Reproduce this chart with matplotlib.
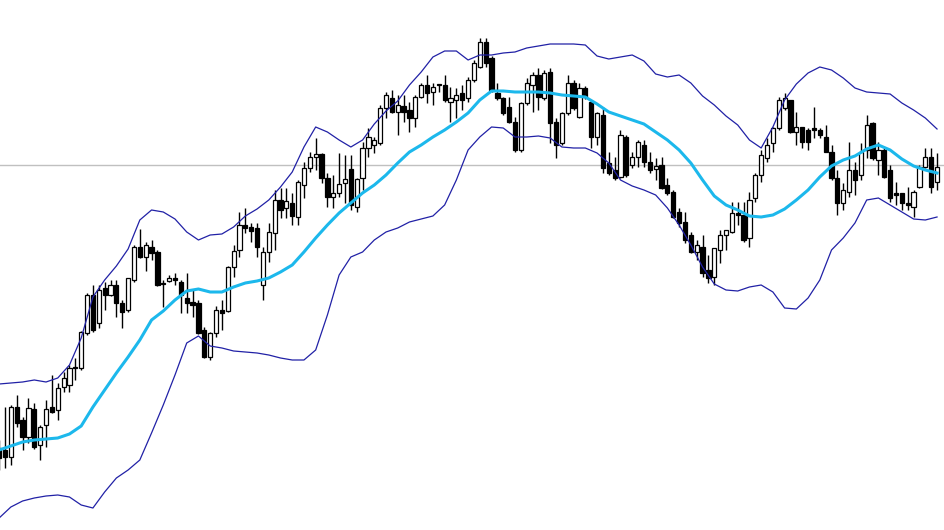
import numpy as np
import matplotlib
matplotlib.use("Agg")
import matplotlib.pyplot as plt

# OHLC per bar (arbitrary price units)
opens = [82, 80, 73, 123, 110, 93, 121, 85, 105, 123, 120, 143, 145, 163, 162, 197, 235, 207, 242, 235,
         245, 227, 220, 250, 283, 273, 283, 278, 247, 249, 252, 248, 232, 228, 227, 200, 173, 197, 220, 219,
         263, 280, 305, 303, 302, 245, 278, 297, 330, 322, 327, 313, 345, 362, 373, 376, 352, 333, 337, 347,
         361, 323, 352, 382, 385, 387, 422, 432, 418, 424, 420, 412, 433, 445, 438, 446, 445, 428, 430, 437,
         432, 450, 463, 488, 472, 437, 432, 423, 408, 380, 427, 445, 455, 432, 458, 408, 387, 417, 447, 413,
         442, 428, 393, 415, 367, 360, 353, 393, 365, 373, 385, 368, 361, 365, 345, 338, 318, 308, 295, 278,
         283, 260, 253, 280, 295, 298, 317, 315, 292, 332, 355, 372, 387, 402, 422, 430, 398, 403, 400, 402,
         400, 393, 378, 352, 327, 338, 360, 355, 380, 407, 370, 380, 360, 337, 337, 327, 323, 343, 363, 373,
         348]
highs = [90, 123, 125, 135, 113, 132, 127, 105, 130, 155, 147, 158, 165, 172, 199, 237, 245, 245, 248, 250,
         250, 230, 252, 285, 301, 288, 290, 280, 250, 255, 257, 250, 257, 240, 230, 203, 198, 224, 230, 264,
         285, 318, 322, 307, 307, 283, 307, 340, 342, 342, 337, 350, 368, 378, 392, 377, 357, 355, 377, 375,
         375, 352, 388, 402, 393, 425, 438, 440, 435, 435, 428, 435, 447, 455, 447, 446, 455, 443, 442, 445,
         453, 470, 492, 492, 474, 447, 433, 433, 413, 428, 452, 458, 462, 460, 462, 412, 418, 455, 450, 447,
         444, 430, 418, 423, 378, 373, 400, 395, 378, 390, 390, 378, 372, 373, 352, 340, 322, 318, 298, 290,
         295, 275, 282, 300, 300, 328, 328, 328, 338, 357, 380, 392, 403, 433, 437, 430, 418, 403, 402, 423,
         402, 405, 385, 360, 347, 388, 368, 387, 415, 408, 388, 382, 365, 348, 337, 343, 340, 365, 382, 382,
         377]
lows = [60, 62, 65, 103, 80, 87, 81, 70, 83, 117, 110, 138, 138, 150, 160, 195, 198, 202, 220, 234,
        213, 202, 218, 248, 272, 259, 270, 244, 223, 248, 245, 217, 217, 213, 196, 172, 170, 193, 200, 218,
        253, 273, 297, 288, 273, 230, 268, 280, 312, 312, 305, 305, 332, 358, 360, 347, 323, 322, 333, 327,
        320, 318, 340, 373, 377, 385, 412, 417, 395, 408, 398, 403, 432, 427, 425, 438, 428, 408, 412, 420,
        428, 448, 462, 463, 438, 430, 415, 407, 378, 378, 425, 418, 420, 430, 387, 372, 385, 415, 420, 412,
        431, 382, 385, 357, 355, 350, 352, 353, 362, 363, 363, 357, 350, 341, 335, 312, 303, 287, 277, 270,
        253, 247, 245, 267, 280, 297, 305, 288, 283, 328, 348, 368, 378, 400, 420, 397, 385, 382, 380, 392,
        392, 378, 350, 315, 320, 333, 335, 350, 372, 370, 355, 352, 328, 325, 320, 320, 313, 342, 362, 337,
        340]
closes = [72, 73, 123, 107, 93, 122, 83, 103, 121, 118, 142, 152, 162, 162, 198, 235, 200, 240, 235, 245,
          227, 218, 252, 283, 273, 285, 277, 245, 246, 252, 250, 235, 227, 225, 197, 173, 197, 220, 217, 263,
          279, 305, 302, 299, 283, 278, 298, 330, 320, 329, 314, 348, 362, 373, 376, 352, 333, 337, 346, 351,
          325, 351, 382, 393, 390, 422, 435, 418, 425, 418, 412, 433, 445, 437, 443, 445, 430, 432, 435, 430,
          450, 467, 488, 467, 440, 432, 417, 408, 380, 427, 447, 455, 433, 457, 407, 385, 417, 447, 422, 442,
          433, 393, 417, 362, 357, 352, 395, 355, 373, 388, 368, 360, 364, 342, 337, 313, 307, 290, 278, 285,
          257, 252, 282, 295, 300, 317, 315, 290, 330, 355, 375, 385, 402, 430, 432, 398, 403, 388, 388, 400,
          395, 378, 352, 327, 340, 360, 350, 378, 405, 372, 380, 353, 332, 335, 327, 325, 338, 363, 373, 343,
          363]

# Bollinger bands, read every second bar
band_step = 2
upper = [146, 147, 148, 150, 148, 152, 165, 192, 233, 250, 264, 281, 310, 320, 318, 311, 298, 290, 295, 296,
         303, 314, 321, 330, 343, 358, 383, 403, 398, 390, 383, 390, 406, 419, 429, 445, 458, 473, 479, 479,
         470, 475, 475, 477, 478, 482, 484, 486, 486, 486, 485, 474, 471, 473, 475, 469, 456, 453, 455, 447,
         434, 425, 414, 405, 390, 382, 403, 430, 446, 457, 463, 460, 452, 442, 438, 437, 436, 427, 420, 412,
         401]
middle = [80, 84, 88, 90, 91, 92, 96, 104, 123, 140, 157, 173, 190, 210, 219, 230, 239, 241, 238, 238,
          243, 247, 249, 252, 258, 265, 278, 292, 305, 317, 327, 337, 345, 355, 367, 378, 385, 393, 400, 408,
          417, 430, 439, 439, 438, 438, 438, 437, 435, 434, 433, 426, 418, 414, 410, 406, 398, 390, 380, 367,
          350, 334, 325, 320, 314, 313, 315, 321, 330, 340, 353, 364, 370, 374, 381, 385, 380, 371, 364, 360,
          357]
lower = [12, 23, 29, 32, 34, 35, 33, 25, 22, 38, 52, 60, 70, 97, 125, 155, 187, 194, 184, 182,
         179, 178, 177, 175, 172, 170, 170, 180, 215, 255, 273, 278, 290, 298, 302, 308, 311, 314, 325, 350,
         380, 393, 403, 402, 393, 393, 394, 392, 383, 382, 382, 377, 367, 350, 344, 340, 335, 322, 305, 285,
         263, 246, 240, 239, 243, 245, 238, 222, 221, 232, 250, 280, 292, 307, 330, 332, 325, 318, 311, 310,
         313]
ref_level = 365

o = np.array(opens); h = np.array(highs); l = np.array(lows); c = np.array(closes)
x = np.arange(len(o))
bx = np.arange(len(upper)) * band_step
up = c >= o

fig = plt.figure(figsize=(9.45, 5.3), dpi=100)
ax = fig.add_axes([0, 0, 1, 1])
ax.axhline(ref_level, color="#c0c0c0", lw=1, zorder=1)

# wicks then bodies
ax.vlines(x, l, h, color="black", lw=1, zorder=2)
body_lo = np.minimum(o, c)
body_h = np.maximum(np.abs(c - o), 1)
ax.bar(x[up], body_h[up], bottom=body_lo[up], width=0.72,
       color="white", edgecolor="black", lw=0.9, zorder=3)
ax.bar(x[~up], body_h[~up], bottom=body_lo[~up], width=0.72,
       color="black", edgecolor="black", lw=0.9, zorder=3)

ax.plot(bx, upper, color="#2121a6", lw=0.9, zorder=4)
ax.plot(bx, lower, color="#2121a6", lw=0.9, zorder=4)
ax.plot(bx, middle, color="#1cb8ec", lw=2.2, zorder=5)

ax.set_xlim(0.147, 161.36)
ax.set_ylim(0, 530)
ax.axis("off")
fig.savefig("out.png", dpi=100, facecolor="white")
